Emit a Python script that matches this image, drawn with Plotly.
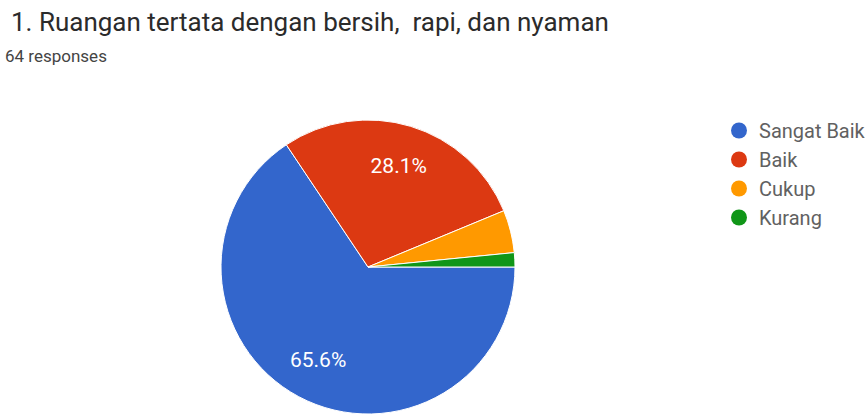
import plotly.graph_objects as go

labels = ["Sangat Baik", "Baik", "Cukup", "Kurang"]
counts = [42, 18, 3, 1]
colors = ["#3366cc", "#dc3912", "#ff9900", "#109618"]
shown_labels = ["%{percent:.1%}", "%{percent:.1%}", "", ""]
title_text = "1. Ruangan tertata dengan bersih,\u00a0 rapi, dan nyaman"
subtitle_text = "64 responses"

W, H = 868, 414
FONT = "Roboto, Arial, sans-serif"
pie_domain = dict(x=[221/W, 515/W], y=[0, 294/H])

fig = go.Figure()
# filled pie
fig.add_trace(go.Pie(
    labels=labels, values=counts, sort=False, direction="clockwise", rotation=90,
    marker=dict(colors=colors, line=dict(color="white", width=1)),
    textinfo="none", showlegend=False, hoverinfo="label+percent",
    domain=pie_domain,
))
# transparent ring on top carrying the percentage labels
fig.add_trace(go.Pie(
    labels=labels, values=counts, sort=False, direction="clockwise", rotation=90,
    hole=0.44,
    marker=dict(colors=["rgba(0,0,0,0)"] * len(labels), line=dict(width=0)),
    texttemplate=shown_labels, textposition="inside", insidetextorientation="horizontal",
    textfont=dict(color="white", size=21, family=FONT),
    showlegend=False, hoverinfo="skip",
    domain=pie_domain,
))
for lab, col in zip(labels, colors):
    fig.add_trace(go.Scatter(x=[None], y=[None], mode="markers", name=lab,
                             marker=dict(color=col, size=18, symbol="circle")))

fig.update_layout(
    width=W, height=H, margin=dict(l=0, r=0, t=0, b=0, autoexpand=False),
    paper_bgcolor="white", plot_bgcolor="white",
    xaxis=dict(visible=False), yaxis=dict(visible=False),
    title=dict(text=title_text, x=11/W, xanchor="left", xref="paper",
               y=1-22/H, yanchor="middle", yref="container",
               font=dict(size=26, color="#2b2b2b", family=FONT)),
    legend=dict(x=719/W, y=1-111/H, xanchor="left", yanchor="top",
                font=dict(size=20, color="#616161", family=FONT),
                itemwidth=30, tracegroupgap=0, bgcolor="rgba(0,0,0,0)"),
    annotations=[dict(text=subtitle_text, x=3/W, xref="paper", xanchor="left",
                      y=1-56/H, yref="paper", yanchor="middle", showarrow=False,
                      font=dict(size=17, color="#444444", family=FONT))],
)
fig.write_html("out.html", config={"displayModeBar": False},
               post_script="document.body.style.margin='0';")
